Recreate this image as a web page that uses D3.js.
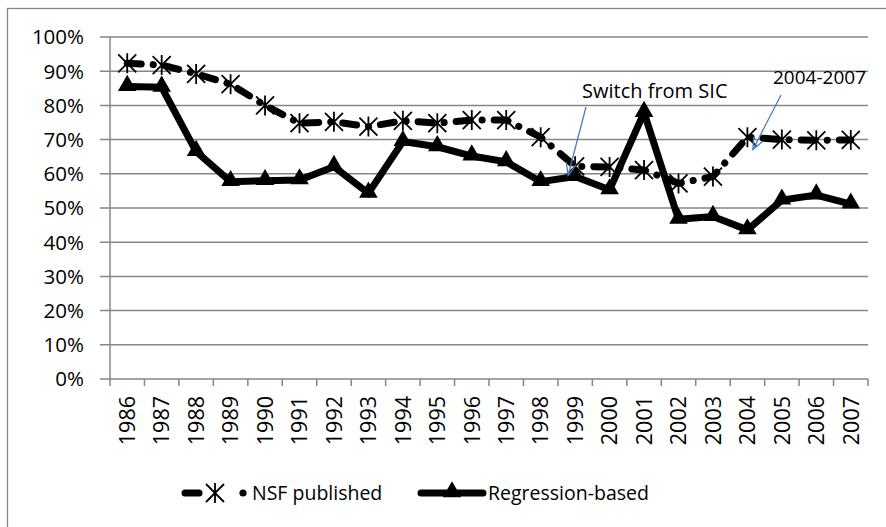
<!DOCTYPE html>
<html><head><meta charset="utf-8">
<script src="https://cdn.jsdelivr.net/npm/d3@7"></script>
<style>
html,body{margin:0;padding:0;background:#fff;}
svg{display:block;font-family:"Open Sans",sans-serif;}
</style></head>
<body>
<svg id="c" width="886" height="527"></svg>
<script>
const years = ["1986","1987","1988","1989","1990","1991","1992","1993","1994","1995","1996","1997","1998","1999","2000","2001","2002","2003","2004","2005","2006","2007"];
const nsfPublished = [0.923,0.918,0.892,0.862,0.800,0.748,0.752,0.738,0.755,0.748,0.757,0.757,0.707,0.622,0.620,0.611,0.572,0.592,0.707,0.700,0.698,0.699];
const regressionBased = [0.855,0.853,0.665,0.577,0.580,0.582,0.621,0.543,0.694,0.679,0.652,0.635,0.577,0.592,0.553,0.779,0.467,0.475,0.436,0.523,0.538,0.511];
const yTicks = [0,0.1,0.2,0.3,0.4,0.5,0.6,0.7,0.8,0.9,1.0];
const seriesNames = ["NSF published","Regression-based"];
const annotations = [
  {label:"Switch from SIC", year:"1999", value:0.622},
  {label:"2004-2007", year:"2004", value:0.70}
];

const svg = d3.select("#c");
const L = 110, R = 868, T = 37, B = 379;
const x = d3.scaleBand().domain(years).range([L, R]);
const y = d3.scaleLinear().domain([0, 1]).range([B, T]);
const grid = "#868686";

// outer frame
svg.append("rect").attr("x", 7.5).attr("y", 8.5).attr("width", 900).attr("height", 540)
  .attr("fill", "none").attr("stroke", grid).attr("stroke-width", 1.3);

// gridlines + y ticks
svg.append("g").selectAll("line").data(yTicks).join("line")
  .attr("x1", L - 10).attr("x2", R)
  .attr("y1", d => y(d)).attr("y2", d => y(d))
  .attr("stroke", grid).attr("stroke-width", 1.5);
svg.append("g").selectAll("text").data(yTicks).join("text")
  .attr("x", 84).attr("y", d => y(d)).attr("dy", "0.36em")
  .attr("text-anchor", "end").attr("font-size", 20.5).attr("fill", "#000")
  .text(d => d3.format(".0%")(d));

// y axis line
svg.append("line").attr("x1", L).attr("x2", L).attr("y1", T).attr("y2", B)
  .attr("stroke", grid).attr("stroke-width", 1.5);

// x ticks at band boundaries
const bounds = years.map(d => x(d)).concat([R]);
svg.append("g").selectAll("line").data(bounds).join("line")
  .attr("x1", d => d).attr("x2", d => d).attr("y1", B).attr("y2", B + 7)
  .attr("stroke", grid).attr("stroke-width", 1.5);
svg.append("g").selectAll("text").data(years).join("text")
  .attr("transform", d => `translate(${x(d) + x.bandwidth()/2},${B + 17}) rotate(-90)`)
  .attr("dy", "0.36em").attr("text-anchor", "end").attr("font-size", 21.5).attr("fill", "#000")
  .text(d => d);

const cx = d => x(d) + x.bandwidth()/2;
const line = d3.line().x(d => cx(d[0])).y(d => y(d[1]));
const nsfPts = years.map((d, i) => [d, nsfPublished[i]]);
const regPts = years.map((d, i) => [d, regressionBased[i]]);

// regression line
svg.append("path").attr("d", line(regPts)).attr("fill", "none")
  .attr("stroke", "#000").attr("stroke-width", 7).attr("stroke-linejoin", "miter");
const tri = d3.symbol().type(d3.symbolTriangle).size(150);
svg.append("g").selectAll("path").data(regPts).join("path")
  .attr("transform", d => `translate(${cx(d[0])},${y(d[1]) - 1})`)
  .attr("d", tri()).attr("fill", "#000");

// NSF dashed line
const dash = "14,12,0.1,12";
svg.append("path").attr("d", line(nsfPts)).attr("fill", "none")
  .attr("stroke", "#000").attr("stroke-width", 7).attr("stroke-linecap", "round")
  .attr("stroke-linejoin", "round").attr("stroke-dasharray", dash);
function star(g, px, py) {
  const s = 9;
  g.append("path")
    .attr("d", `M${px - s},${py - s}L${px + s},${py + s}M${px - s},${py + s}L${px + s},${py - s}M${px},${py - s - 1}L${px},${py + s + 1}`)
    .attr("stroke", "#000").attr("stroke-width", 1.8).attr("fill", "none");
}
const sg = svg.append("g");
nsfPts.forEach(d => star(sg, cx(d[0]), y(d[1])));

// annotations
const blue = "#4a7ebb";
function arrow(x1, y1, x2, y2) {
  svg.append("line").attr("x1", x1).attr("y1", y1).attr("x2", x2).attr("y2", y2)
    .attr("stroke", blue).attr("stroke-width", 1.3);
  const a = Math.atan2(y2 - y1, x2 - x1), h = 13, w = 0.4;
  svg.append("path")
    .attr("d", `M${x2 - h*Math.cos(a - w)},${y2 - h*Math.sin(a - w)}L${x2},${y2}L${x2 - h*Math.cos(a + w)},${y2 - h*Math.sin(a + w)}`)
    .attr("stroke", blue).attr("stroke-width", 1.3).attr("fill", "none");
}
const a0 = annotations[0], a1 = annotations[1];
svg.append("text").attr("x", 582).attr("y", 98).attr("font-size", 20).attr("fill", "#000").text(a0.label);
arrow(586, 107, cx(a0.year) - 7, y(a0.value) + 9);
svg.append("text").attr("x", 773).attr("y", 84).attr("font-size", 19).attr("fill", "#000").text(a1.label);
arrow(781, 95, cx(a1.year) + 5.5, y(a1.value) + 10);

// legend
const ly = 493;
svg.append("path").attr("d", `M185,${ly}L199,${ly}`).attr("stroke", "#000").attr("stroke-width", 7)
  .attr("stroke-linecap", "round");
star(svg, 215, ly);
svg.append("circle").attr("cx", 243).attr("cy", ly).attr("r", 3.6).attr("fill", "#000");
svg.append("text").attr("x", 252).attr("y", ly).attr("dy", "0.36em").attr("font-size", 19.5).text(seriesNames[0]);
svg.append("path").attr("d", `M421,${ly}L483,${ly}`).attr("stroke", "#000").attr("stroke-width", 7)
  .attr("stroke-linecap", "round");
svg.append("path").attr("transform", `translate(452,${ly - 1})`).attr("d", tri()).attr("fill", "#000");
svg.append("text").attr("x", 488).attr("y", ly).attr("dy", "0.36em").attr("font-size", 19.5).text(seriesNames[1]);
</script>
</body></html>
